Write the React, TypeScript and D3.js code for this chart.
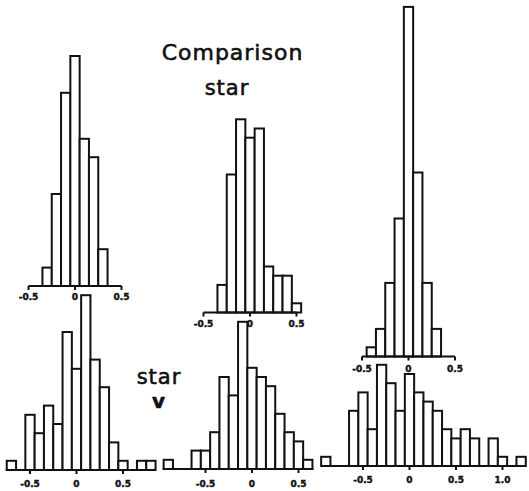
import { scaleLinear } from "d3";
import { useEffect } from "react";

// bin centres (in magnitudes) and star counts
const topLeftBins = [-0.3, -0.2, -0.1, 0, 0.1, 0.2, 0.3];
const topLeftCounts = [2, 10, 21, 25, 16, 14, 4];

const topMidBins = [-0.3, -0.2, -0.1, 0, 0.1, 0.2, 0.3, 0.4, 0.5];
const topMidCounts = [3, 15, 21, 19, 20, 5, 4, 4, 1];

const topRightBins = [-0.4, -0.3, -0.2, -0.1, 0, 0.1, 0.2, 0.3];
const topRightCounts = [1, 3, 8, 15, 38, 20, 8, 3];

const lowLeftBins = [-0.7, -0.5, -0.4, -0.3, -0.2, -0.1, 0, 0.1, 0.2, 0.3, 0.4, 0.5, 0.7, 0.8];
const lowLeftCounts = [1, 6, 4, 7, 5, 15, 11, 19, 12, 9, 3, 1, 1, 1];

const lowMidBins = [-0.9, -0.6, -0.5, -0.4, -0.3, -0.2, -0.1, 0, 0.1, 0.2, 0.3, 0.4, 0.5, 0.6];
const lowMidCounts = [1, 2, 2, 4, 10, 8, 16, 11, 10, 9, 6, 4, 3, 1];

const lowRightBins = [-0.9, -0.6, -0.5, -0.4, -0.3, -0.2, -0.1, 0, 0.1, 0.2, 0.3, 0.4, 0.5, 0.6, 0.7, 0.9, 1.0, 1.2];
const lowRightCounts = [1, 6, 8, 4, 11, 9, 6, 10, 8, 7, 6, 4, 3, 4, 3, 3, 1, 1];

const ticks = [-0.5, 0, 0.5];
const ticksWide = [-0.5, 0, 0.5, 1.0];
const tickLabels: Record<string, string> = { "-0.5": "-0.5", "0": "0", "0.5": "0.5", "1": "1.0" };

const BIN = 0.1;
const PX_PER_MAG = 93;
const heightScale = scaleLinear().domain([0, 40]).range([0, 368]);
const ink = "#111";

interface Panel {
  bins: number[];
  counts: number[];
  zero: number;
  base: number;
  axis: [number, number];
  ticks: number[];
  labelDy: number;
}

const panels: Panel[] = [
  { bins: topLeftBins, counts: topLeftCounts, zero: 75, base: 286, axis: [-0.5, 0.5], ticks, labelDy: 14 },
  { bins: topMidBins, counts: topMidCounts, zero: 250, base: 312.5, axis: [-0.5, 0.5], ticks, labelDy: 14.5 },
  { bins: topRightBins, counts: topRightCounts, zero: 408.5, base: 356.5, axis: [-0.5, 0.5], ticks, labelDy: 15 },
  { bins: lowLeftBins, counts: lowLeftCounts, zero: 76.5, base: 470, axis: [-0.76, 0.85], ticks, labelDy: 17 },
  { bins: lowMidBins, counts: lowMidCounts, zero: 252, base: 469, axis: [-0.96, 0.66], ticks, labelDy: 18 },
  { bins: lowRightBins, counts: lowRightCounts, zero: 409.5, base: 466, axis: [-0.95, 1.25], ticks: ticksWide, labelDy: 17 },
];

function Histogram({ p }: { p: Panel }) {
  const x = scaleLinear()
    .domain([-1, 1])
    .range([p.zero - PX_PER_MAG, p.zero + PX_PER_MAG]);
  const w = x(BIN / 2) - x(-BIN / 2);
  return (
    <g>
      {p.bins.map((b, i) => {
        const h = heightScale(p.counts[i]);
        return (
          <rect
            key={i}
            x={x(b - BIN / 2)}
            y={p.base - h}
            width={w}
            height={h}
            fill="#fff"
            stroke={ink}
            strokeWidth={2}
          />
        );
      })}
      <line x1={x(p.axis[0])} x2={x(p.axis[1])} y1={p.base} y2={p.base} stroke={ink} strokeWidth={2} />
      {p.ticks.map((t) => (
        <g key={t}>
          <line x1={x(t)} x2={x(t)} y1={p.base} y2={p.base + 4} stroke={ink} strokeWidth={2} />
          <text
            x={x(t)}
            y={p.base + p.labelDy}
            textAnchor="middle"
            fontSize={9}
            fontWeight="bold"
            fontFamily="DejaVu Sans, sans-serif"
            fill={ink}
            stroke={ink}
            strokeWidth={0.4}
          >
            {tickLabels[String(t)]}
          </text>
        </g>
      ))}
    </g>
  );
}

export default function App() {
  useEffect(() => {
    document.body.style.margin = "0";
  }, []);
  const font = "DejaVu Sans, sans-serif";
  const label = { fontFamily: font, fill: ink, stroke: ink, strokeWidth: 0.6 };
  return (
    <svg
      width={529}
      height={491}
      viewBox="0 0 529 491"
      style={{ position: "absolute", left: 0, top: 0, background: "#fff" }}
    >
      <rect width={529} height={491} fill="#fff" />
      <text x={232.5} y={60} textAnchor="middle" fontSize={22} letterSpacing={1} {...label}>
        Comparison
      </text>
      <text x={227} y={95} textAnchor="middle" fontSize={21} letterSpacing={1} {...label}>
        star
      </text>
      <text x={159} y={383.5} textAnchor="middle" fontSize={21} letterSpacing={1} {...label}>
        star
      </text>
      <text x={158.5} y={408} textAnchor="middle" fontSize={20} fontWeight="bold" {...label}>
        v
      </text>
      {panels.map((p, i) => (
        <Histogram key={i} p={p} />
      ))}
    </svg>
  );
}
